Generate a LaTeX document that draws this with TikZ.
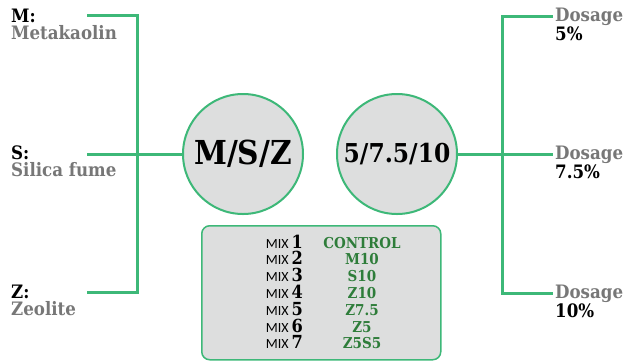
\documentclass[tikz,border=0pt]{standalone}
\usepackage{fontspec}
\setmainfont{DejaVu Serif Condensed}
\newfontfamily\mixfont{Carlito}
\definecolor{linegreen}{HTML}{3DB878}
\definecolor{textgreen}{HTML}{2E7D3A}
\definecolor{softgray}{HTML}{DDDEDE}
\definecolor{labelgray}{HTML}{777777}
\begin{document}
\begin{tikzpicture}[x=1pt,y=-1pt,
  link/.style={draw=linegreen,line width=3pt},
  bubble/.style={circle,draw=linegreen,line width=2pt,fill=softgray,minimum size=120pt,inner sep=0pt,font=\bfseries},
  sidelabel/.style={anchor=north west,align=left,inner sep=0pt,font=\bfseries\fontsize{18.5}{16.8}\selectfont},
  mixno/.style={anchor=base east,inner sep=0pt},
  mixname/.style={anchor=base,inner sep=0pt,text=textgreen,font=\bfseries\fontsize{15}{15}\selectfont}]
\useasboundingbox[fill=white] (0,0) rectangle (627,360);

% material and dosage bubbles
\node[bubble,font=\bfseries\fontsize{33}{34}\selectfont] (msz) at (243,154) {M/S/Z};
\node[bubble,font=\bfseries\fontsize{26}{28}\selectfont] (dose) at (397,154) {5/7.5/10};

% left bracket
\coordinate (lm) at (87,15);
\coordinate (ls) at (87,154);
\coordinate (lz) at (87,292);
\coordinate (ltop) at (137,15);
\coordinate (lbot) at (137,292);
\draw[link] (lm) -- (ltop) -- (lbot) -- (lz);
\draw[link] (ls) -- (msz.west);

% right bracket
\coordinate (r5) at (553,16);
\coordinate (r75) at (553,154);
\coordinate (r10) at (553,293);
\coordinate (rtop) at (502,16);
\coordinate (rbot) at (502,293);
\draw[link] (r5) -- (rtop) -- (rbot) -- (r10);
\draw[link] (dose.east) -- (r75);

% material labels
\node[sidelabel] (mlab) at (11,9) {M:\\\textcolor{labelgray}{Metakaolin}};
\node[sidelabel] (slab) at (11,146) {S:\\\textcolor{labelgray}{Silica fume}};
\node[sidelabel] (zlab) at (11,285) {Z:\\\textcolor{labelgray}{Zeolite}};

% dosage labels
\node[sidelabel] (d5) at (555,8) {\textcolor{labelgray}{Dosage}\\5\%};
\node[sidelabel] (d75) at (555,146) {\textcolor{labelgray}{Dosage}\\7.5\%};
\node[sidelabel] (d10) at (555,285) {\textcolor{labelgray}{Dosage}\\10\%};

% mix table
\node[draw=linegreen,line width=1.5pt,fill=softgray,rounded corners=8pt,minimum width=239pt,minimum height=134pt,anchor=north west] (mixbox) at (201,225) {};
\foreach \i/\n [count=\k from 0] in {1/CONTROL,2/M10,3/S10,4/Z10,5/Z7.5,6/Z5,7/Z5S5}{
  \node[mixno] (mix\i) at (303,248+16.8*\k) {{\mixfont\fontsize{14}{14}\selectfont MIX} {\bfseries\fontsize{18}{18}\selectfont\i}};
  \node[mixname] (name\i) at (362,248+16.8*\k) {\n};
}
\end{tikzpicture}
\end{document}
